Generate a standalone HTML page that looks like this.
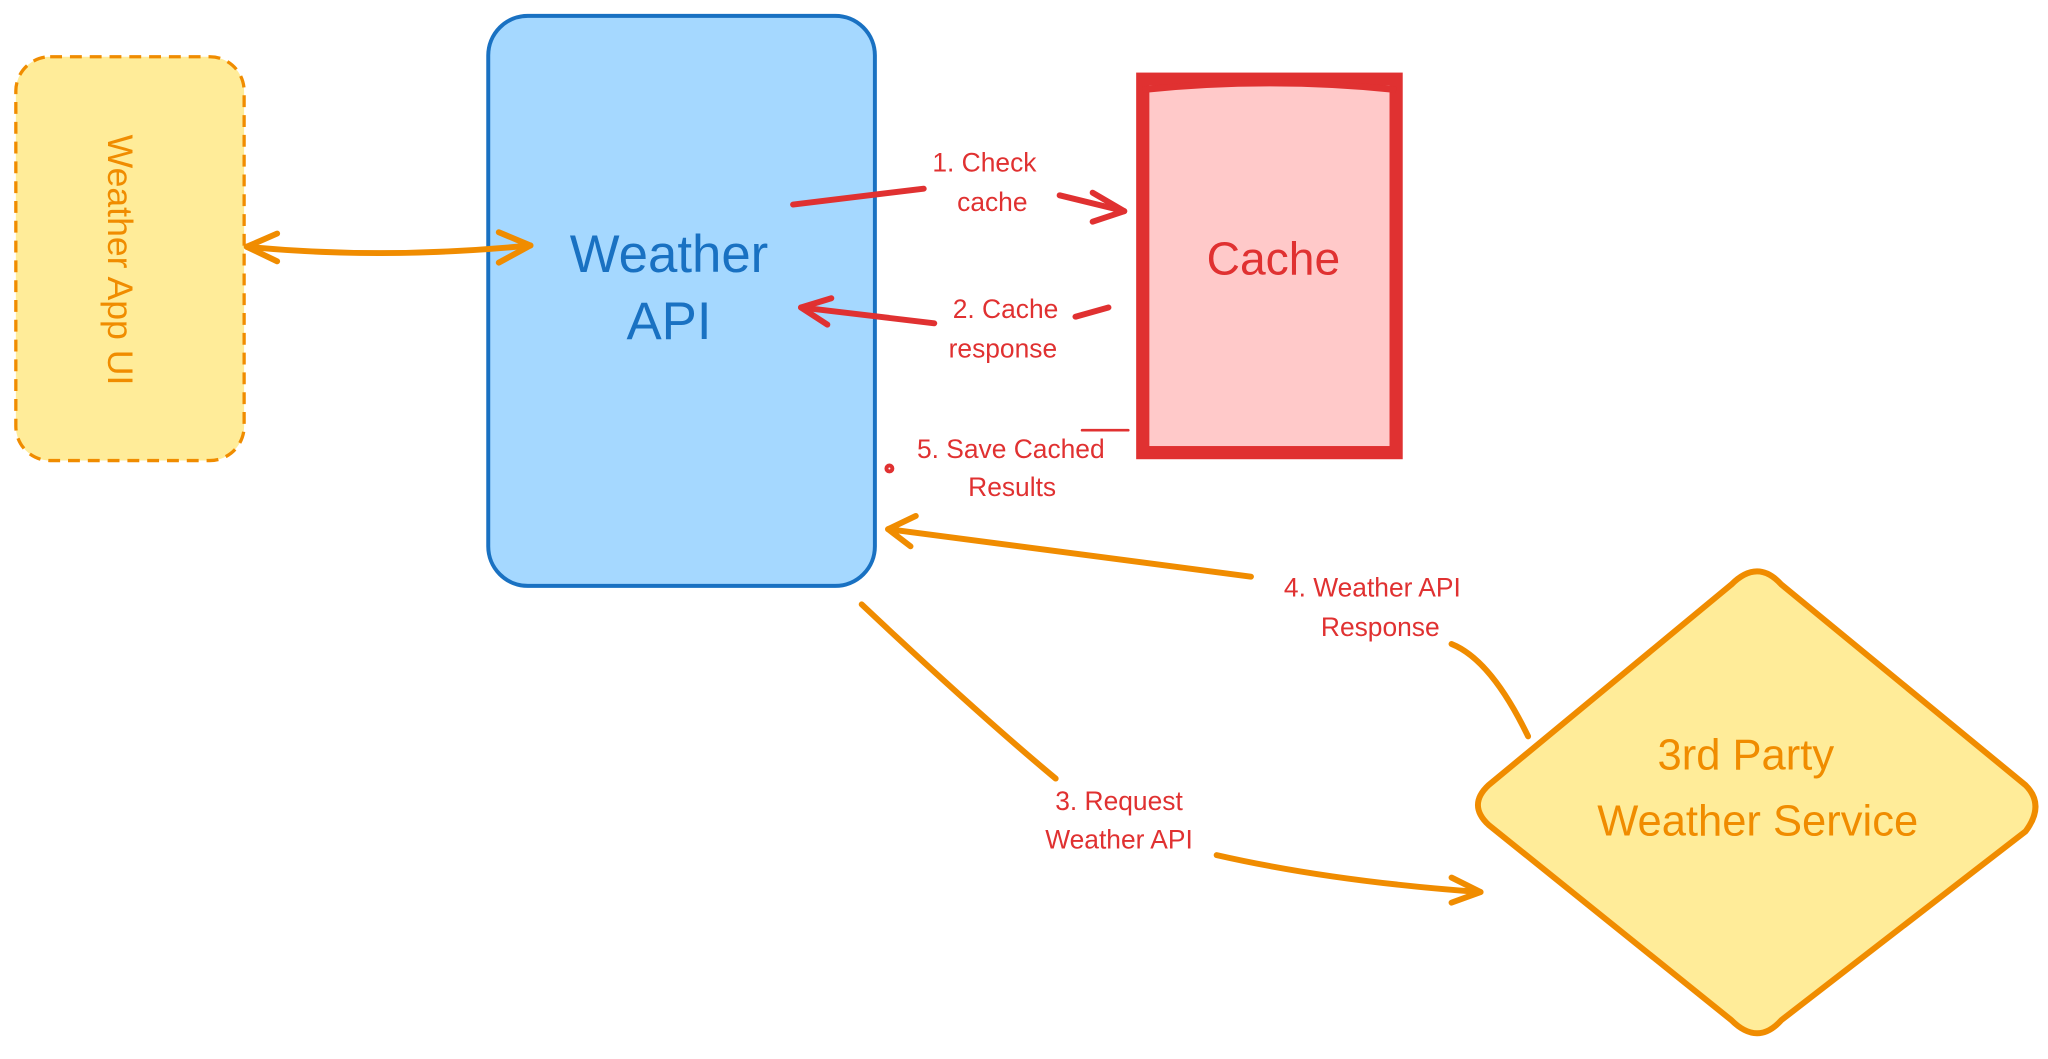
<!DOCTYPE html>
<html><head><meta charset="utf-8"><style>
html,body{margin:0;padding:0;background:#fff;width:2048px;height:1059px;overflow:hidden}
svg{display:block}
text{font-family:"Liberation Sans",sans-serif;text-anchor:middle}
</style></head><body>
<svg width="2048" height="1059" viewBox="0 0 1552 802.5" preserveAspectRatio="none">
<rect x="0" y="0" width="1552" height="803" fill="#fff"/>
<rect x="12" y="43" width="173" height="306" rx="26" fill="#ffec99" stroke="#f08c00" stroke-width="2.5" stroke-dasharray="9 6"/>
<text x="0" y="0" font-size="27" fill="#f08c00" transform="translate(82,197) rotate(90)">Weather App UI</text>
<rect x="370" y="12" width="293" height="432" rx="30" fill="#a5d8ff" stroke="#1971c2" stroke-width="3"/>
<text x="507" y="206" font-size="40" fill="#1971c2">Weather</text>
<text x="507" y="257" font-size="40" fill="#1971c2">API</text>
<rect x="866" y="60" width="192" height="283" fill="#ffc9c9" stroke="#e03131" stroke-width="10"/>
<path d="M866 68 Q962 58 1058 68" fill="none" stroke="#e03131" stroke-width="5"/>
<text x="965" y="208" font-size="35" fill="#e03131">Cache</text>
<path d="M1312 443 Q1332 423 1350 443 L1535 595 Q1550 610 1535 630 L1350 773 Q1332 793 1312 773 L1128 625 Q1112 610 1128 595 Z" fill="#ffec99" stroke="#f08c00" stroke-width="4.5" stroke-linejoin="round"/>
<text x="1323" y="583" font-size="33" fill="#f08c00">3rd Party</text>
<text x="1332" y="633" font-size="33" fill="#f08c00">Weather Service</text>
<g fill="none" stroke="#f08c00" stroke-width="4.5" stroke-linecap="round" stroke-linejoin="round">
<path d="M187 187 Q290 197 402 186"/>
<path d="M210 177 L187 187 L210 198"/>
<path d="M378 176 L402 186 L378 199"/>
<path d="M1158 558 Q1130 500 1100 488"/>
<path d="M948 437 L673 401"/>
<path d="M694 391 L673 401 L690 414"/>
<path d="M653 458 Q740 540 800 590"/>
<path d="M922 648 Q1010 668 1122 676"/>
<path d="M1100 665 L1122 676 L1100 684"/>
</g>
<g fill="none" stroke="#e03131" stroke-width="4.5" stroke-linecap="round" stroke-linejoin="round">
<path d="M601 155 L700 143"/>
<path d="M803 148 L852 160"/>
<path d="M828 146 L852 160 L828 168"/>
<path d="M840 233 L815 240"/>
<path d="M708 245 L607 233"/>
<path d="M630 226 L607 233 L627 246"/>
<path d="M820 326 L855 326" stroke-width="2"/>
<circle cx="674" cy="355" r="1.5"/>
</g>
<g font-size="20" fill="#e03131">
<text x="746" y="130">1. Check</text>
<text x="752" y="160">cache</text>
<text x="762" y="241">2. Cache</text>
<text x="760" y="271">response</text>
<text x="766" y="347">5. Save Cached</text>
<text x="767" y="376">Results</text>
<text x="1040" y="452">4. Weather API</text>
<text x="1046" y="482">Response</text>
<text x="848" y="614">3. Request</text>
<text x="848" y="643">Weather API</text>
</g>
</svg>
</body></html>
